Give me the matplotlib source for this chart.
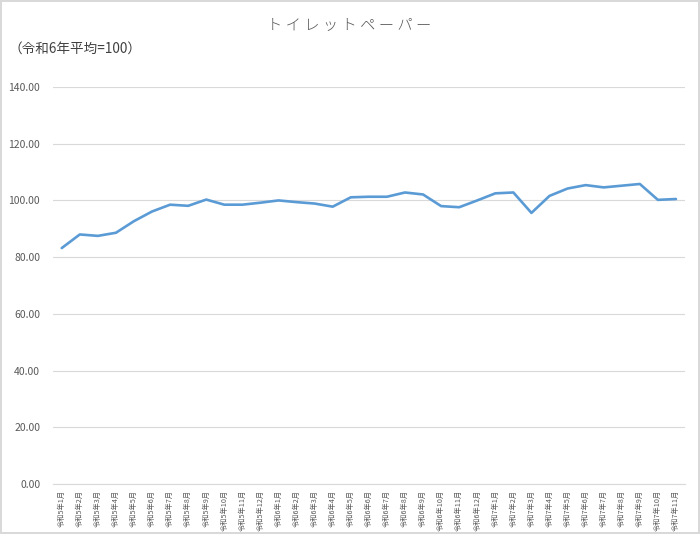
import matplotlib
matplotlib.use("Agg")
import matplotlib.pyplot as plt

plt.rcParams['font.family'] = ['Noto Sans CJK JP', 'DejaVu Sans']

months = ([f"令和5年{m}月" for m in range(1, 13)]
          + [f"令和6年{m}月" for m in range(1, 13)]
          + [f"令和7年{m}月" for m in range(1, 12)])
values = [83.2, 88.0, 87.5, 88.6, 92.7, 96.1, 98.5, 98.1, 100.3, 98.5, 98.5, 99.2,
          100.0, 99.4, 98.9, 97.8, 101.1, 101.3, 101.3, 102.8, 102.1, 98.0, 97.6, 100.0,
          102.5, 102.8, 95.6, 101.6, 104.2, 105.4, 104.6, 105.2, 105.8, 100.2, 100.5]
yticks = [0, 20, 40, 60, 80, 100, 120, 140]

W, H = 700, 534
fig = plt.figure(figsize=(W / 100, H / 100), dpi=100)
fig.patch.set_facecolor('white')
fig.patch.set_edgecolor('#D9D9D9')
fig.patch.set_linewidth(1.5)

ax = fig.add_axes([52.7 / W, 1 - 484 / H, (685 - 52.7) / W, (484 - 87) / H])
x = list(range(len(months)))
ax.plot(x, values, color='#5B9BD5', lw=1.9, solid_joinstyle='round', solid_capstyle='round')
ax.set_xlim(-0.5, len(months) - 0.5)
ax.set_ylim(0, 140)
ax.set_yticks(yticks)
ax.set_yticklabels([f"{v:.2f}" for v in yticks], fontsize=7.5, color='#595959')
ax.set_xticks(x)
ax.set_xticklabels(months, rotation=90, fontsize=5.2, color='#595959', va='top')
ax.tick_params(axis='both', length=0)
ax.tick_params(axis='y', pad=9)
ax.tick_params(axis='x', pad=4)
ax.grid(axis='y', color='#D9D9D9', lw=0.8)
ax.set_axisbelow(True)
for s in ['top', 'right', 'left']:
    ax.spines[s].set_visible(False)
ax.spines['bottom'].set_color('#D9D9D9')
ax.spines['bottom'].set_linewidth(0.8)

fig.text(349 / W, 1 - 25 / H, "ト イ レ ッ ト ペ ー パ ー", ha='center', va='center',
         fontsize=11, color='#595959', fontweight='light')
fig.text(9 / W, 1 - 49 / H, "（令和6年平均=100）", ha='left', va='center',
         fontsize=9.8, color='#404040')

fig.savefig("out.png", dpi=100)
